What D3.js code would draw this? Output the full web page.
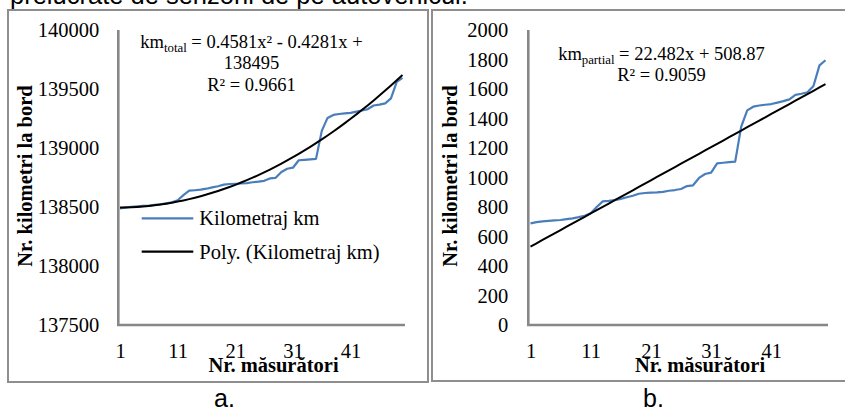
<!DOCTYPE html>
<meta charset="utf-8">
<style>
  body { margin: 0; background: #fff; }
  svg { display: block; }
  .serif { font-family: "Liberation Serif", "Times New Roman", serif; }
  .sans { font-family: "Liberation Sans", Arial, sans-serif; }
  .frame { fill: none; stroke: #8e8e8e; stroke-width: 2px; }
  .axisline { fill: none; stroke: #878787; stroke-width: 2.6px; }
  .series { fill: none; stroke: #4a7ebb; stroke-width: 2.2px; stroke-linejoin: round; }
  .trend { fill: none; stroke: #000; stroke-width: 2px; }
</style>
<body>
<script src="https://d3js.org/d3.v7.min.js"></script>
<script>
// measurement index (x categories)
var measurements = [1, 2, 3, 4, 5, 6, 7, 8, 9, 10, 11, 12, 13, 14, 15, 16, 17, 18, 19, 20,
  21, 22, 23, 24, 25, 26, 27, 28, 29, 30, 31, 32, 33, 34, 35, 36, 37, 38, 39, 40,
  41, 42, 43, 44, 45, 46, 47, 48, 49, 50];
var xTickLabels = [1, 11, 21, 31, 41];

// odometer reading (panel a)
var kmTotal = [138489, 138497, 138502, 138506, 138509, 138512, 138518, 138523, 138531, 138540,
  138557, 138600, 138638, 138642, 138647, 138655, 138666, 138676, 138690, 138695,
  138697, 138699, 138703, 138710, 138715, 138722, 138742, 138747, 138797, 138824,
  138833, 138896, 138900, 138904, 138908, 139145, 139255, 139280, 139288, 139293,
  139298, 139308, 139318, 139330, 139360, 139368, 139378, 139420, 139560, 139595];

// partial trip counter (panel b)
var kmPartial = [689, 697, 702, 706, 709, 712, 718, 723, 731, 740,
  757, 800, 838, 842, 847, 855, 866, 876, 890, 895,
  897, 899, 903, 910, 915, 922, 942, 947, 997, 1024,
  1033, 1096, 1100, 1104, 1108, 1345, 1455, 1480, 1488, 1493,
  1498, 1508, 1518, 1530, 1560, 1568, 1578, 1620, 1760, 1795];

var yTicksTotal = [137500, 138000, 138500, 139000, 139500, 140000];
var yTicksPartial = [0, 200, 400, 600, 800, 1000, 1200, 1400, 1600, 1800, 2000];

// trendline coefficients shown on the chart
var polyCoef = [0.4581, -0.4281, 138495];   // a*x^2 + b*x + c
var linCoef = [22.482, 508.87];             // a*x + b

var svg = d3.select("body").append("svg")
  .attr("width", 845)
  .attr("height", 409);

// cut-off line of body text above the figure
svg.append("text").attr("class", "sans")
  .attr("x", 10).attr("y", 3.5)
  .style("font-size", "25.5px")
  .text("prelucrate de senzorii de pe autovehicul.");

function drawPanel(p) {
  var g = svg.append("g");

  g.append("rect").attr("class", "frame")
    .attr("x", p.frame[0]).attr("y", p.frame[1])
    .attr("width", p.frame[2]).attr("height", p.frame[3]);

  var x = d3.scaleLinear().domain([1, 50]).range(p.xRange);
  var y = d3.scaleLinear().domain(p.yDomain).range([325, 30]);

  // y tick labels
  var ya = g.append("g")
    .attr("transform", "translate(" + p.axisX + ",0)")
    .call(d3.axisLeft(y).tickValues(p.yTicks).tickSize(0).tickPadding(p.yPad)
      .tickFormat(d3.format("d")));
  ya.select(".domain").remove();
  ya.attr("font-family", null).attr("font-size", null);
  ya.selectAll("text").attr("class", "serif")
    .style("font-size", "20.5px").attr("fill", "#000").attr("dy", "0.34em");

  // x tick labels
  var xa = g.append("g")
    .attr("transform", "translate(0,325)")
    .call(d3.axisBottom(x).tickValues(xTickLabels).tickSize(0).tickPadding(18.5));
  xa.select(".domain").remove();
  xa.attr("font-family", null).attr("font-size", null);
  xa.selectAll("text").attr("class", "serif")
    .style("font-size", "20.5px").attr("fill", "#000");

  // axis lines
  g.append("path").attr("class", "axisline")
    .attr("d", "M" + p.axisX + ",30V325H" + p.axisEnd);

  // data line
  var line = d3.line()
    .x(function (d, i) { return x(measurements[i]); })
    .y(function (d) { return y(d); });
  g.append("path").attr("class", "series").attr("d", line(p.values));

  // trendline
  var trend = measurements.map(p.trend);
  g.append("path").attr("class", "trend").attr("d", line(trend));

  // axis titles
  g.append("text").attr("class", "serif")
    .attr("transform", "translate(" + p.yTitleX + ",176) rotate(-90)")
    .attr("text-anchor", "middle").attr("dy", "0.35em")
    .style("font-size", "20.5px").style("font-weight", "bold")
    .text("Nr. kilometri la bord");
  g.append("text").attr("class", "serif")
    .attr("x", p.xTitleX).attr("y", 372)
    .attr("text-anchor", "middle")
    .style("font-size", "20.5px").style("font-weight", "bold")
    .text("Nr. m\u0103sur\u0103tori");

  // equation label, centred by measuring each line
  p.eqLines.forEach(function (ln, i) {
    var t = g.append("text").attr("class", "serif")
      .attr("x", 0).attr("y", p.eqY[i])
      .style("font-size", "18.5px");
    ln.forEach(function (part) {
      var s = t.append("tspan").text(part.t);
      if (part.sub) {
        s.style("font-size", "12.8px").attr("dy", 4);
      } else if (part.after) {
        s.attr("dy", -4);
      }
    });
    var w = t.node().getBBox().width;
    t.attr("x", p.eqX - w / 2);
  });

  // caption
  g.append("text").attr("class", "sans")
    .attr("x", p.captionX).attr("y", 406.5)
    .style("font-size", "25px")
    .text(p.caption);

  return g;
}

var ga = drawPanel({
  frame: [8, 10, 420, 372],
  xRange: [120, 402.5],
  yDomain: [137500, 140000],
  yTicks: yTicksTotal,
  axisX: 118.3, axisEnd: 405, yPad: 19,
  values: kmTotal,
  trend: function (v) { return polyCoef[0] * v * v + polyCoef[1] * v + polyCoef[2]; },
  yTitleX: 25, xTitleX: 273.5,
  eqX: 251.5, eqY: [48, 69, 90.5],
  eqLines: [
    [{ t: "km" }, { t: "total", sub: true }, { t: " = 0.4581x\u00b2 - 0.4281x +", after: true }],
    [{ t: "138495" }],
    [{ t: "R\u00b2 = 0.9661" }]
  ],
  captionX: 214, caption: "a."
});

// legend (panel a)
var legendItems = [
  { label: "Kilometraj km", color: "#4a7ebb" },
  { label: "Poly. (Kilometraj km)", color: "#000" }
];
legendItems.forEach(function (d, i) {
  var ly = 218.3 + i * 33.4;
  ga.append("line")
    .attr("x1", 141.7).attr("x2", 193.3).attr("y1", ly).attr("y2", ly)
    .attr("stroke", d.color).attr("stroke-width", 2.2);
  ga.append("text").attr("class", "serif")
    .attr("x", 199.3).attr("y", ly + 7)
    .style("font-size", "20.5px")
    .text(d.label);
});

drawPanel({
  frame: [432, 10, 430, 371],
  xRange: [530.5, 825.5],
  yDomain: [0, 2000],
  yTicks: yTicksPartial,
  axisX: 528.3, axisEnd: 828, yPad: 20,
  values: kmPartial,
  trend: function (v) { return linCoef[0] * v + linCoef[1]; },
  yTitleX: 450, xTitleX: 700,
  eqX: 661.5, eqY: [60, 80.5],
  eqLines: [
    [{ t: "km" }, { t: "partial", sub: true }, { t: " = 22.482x + 508.87", after: true }],
    [{ t: "R\u00b2 = 0.9059" }]
  ],
  captionX: 643, caption: "b."
});
</script>
</body>
